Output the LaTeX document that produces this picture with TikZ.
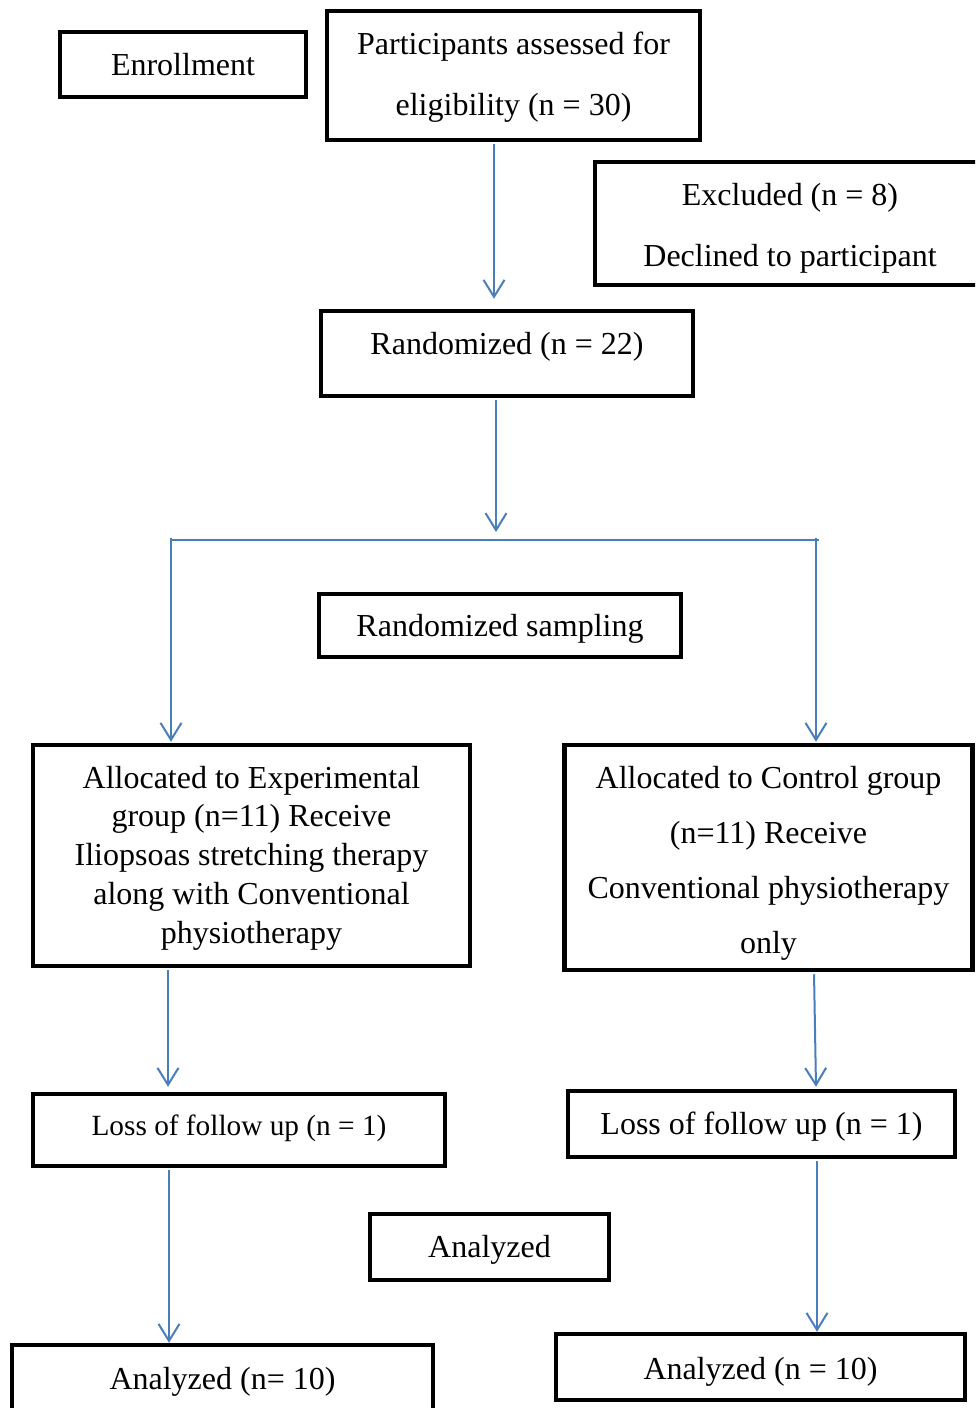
\documentclass[tikz,border=0pt]{standalone}
\usepackage{fontspec}
\setmainfont{Liberation Serif}
\usetikzlibrary{arrows.meta}
\definecolor{arrowblue}{RGB}{74,126,187}
% first baseline placed #1 below the node centre; lines spaced by the current \baselineskip
\newcommand{\boxtext}[2]{\raisebox{-#1}[0pt][0pt]{\begin{tabular}[t]{@{}c@{}}#2\end{tabular}}}
\tikzset{
  box/.style={draw=black, line width=4.5pt, fill=white, inner sep=0pt, font=\fontsize{32}{38}\selectfont},
  conn/.style={draw=arrowblue, line width=2pt},
  arr/.style={conn, -{Straight Barb[length=17pt,width=21pt,line width=2pt]}},
}
\begin{document}
\begin{tikzpicture}[x=1pt,y=-1pt]
\useasboundingbox (0,0) rectangle (975,1408);
\clip (0,0) rectangle (975,1408);
% boxes (pixel coordinates: x right, y down)
\node[box, minimum width=246pt, minimum height=65pt] (enr) at (183,64.5) {\boxtext{10.5pt}{Enrollment}};
\node[box, minimum width=373pt, minimum height=129pt, font=\fontsize{32}{61}\selectfont] (part) at (513.5,75.5) {\boxtext{-20.8pt}{Participants assessed for\\eligibility (n = 30)}};
\node[box, minimum width=390pt, minimum height=123pt, font=\fontsize{32}{61.4}\selectfont] (excl) at (790,223.5) {\boxtext{-18.1pt}{Excluded (n = 8)\\Declined to participant}};
\node[box, minimum width=372pt, minimum height=85pt] (rand) at (507,353.5) {\boxtext{0.5pt}{Randomized (n = 22)}};
\node[box, minimum width=362pt, minimum height=63pt] (samp) at (500,625.5) {\boxtext{11pt}{Randomized sampling}};
\node[box, minimum width=437pt, minimum height=221pt, font=\fontsize{32}{38.75}\selectfont] (exp) at (251.5,855.5) {\boxtext{-67.5pt}{Allocated to Experimental\\group (n=11) Receive\\Iliopsoas stretching therapy\\along with Conventional\\physiotherapy}};
\node[box, minimum width=408pt, minimum height=225pt, font=\fontsize{32}{55}\selectfont] (ctrl) at (768.5,857.5) {\boxtext{-69.2pt}{Allocated to Control group\\(n=11) Receive\\Conventional physiotherapy\\only}};
\node[box, minimum width=412pt, minimum height=72pt, font=\fontsize{29.3}{34}\selectfont] (lossl) at (239,1130) {\boxtext{5pt}{Loss of follow up (n = 1)}};
\node[box, minimum width=387pt, minimum height=66pt] (lossr) at (761.5,1124) {\boxtext{10pt}{Loss of follow up (n = 1)}};
\node[box, minimum width=239pt, minimum height=66pt] (anmid) at (489.5,1247) {\boxtext{10pt}{Analyzed}};
\node[box, minimum width=421pt, minimum height=68pt] (anl) at (222.5,1379) {\boxtext{10pt}{Analyzed (n= 10)}};
\node[box, minimum width=409pt, minimum height=66pt] (anr) at (760.5,1367) {\boxtext{12pt}{Analyzed (n = 10)}};
% connectors
\coordinate (split) at (496,540);
\coordinate (sl) at (171,540);
\coordinate (sr) at (816,540);
\draw[arr, shorten <=2pt] (part.south -| 494,0) -- ([yshift=10pt]rand.north -| 494,0);
\draw[arr, shorten <=2pt] (rand.south -| 496,0) -- ([yshift=8pt]split);
\draw[conn] ([xshift=-1pt]sl) -- ([xshift=3pt]sr);
\draw[arr] ([yshift=2pt]sl) -- ([yshift=1pt]exp.north -| sl);
\draw[arr] ([yshift=2pt]sr) -- ([yshift=1pt]ctrl.north -| sr);
\draw[arr, shorten <=2pt] (exp.south -| 168,0) -- ([yshift=5pt]lossl.north -| 168,0);
\draw[arr, shorten <=2pt] (ctrl.south -| 814,0) -- ([yshift=2pt]lossr.north -| 816,0);
\draw[arr, shorten <=2pt] (lossl.south -| 169,0) -- (anl.north -| 169,0);
\draw[arr, shorten <=2pt] (lossr.south -| 817,0) -- (anr.north -| 817,0);
\end{tikzpicture}
\end{document}
